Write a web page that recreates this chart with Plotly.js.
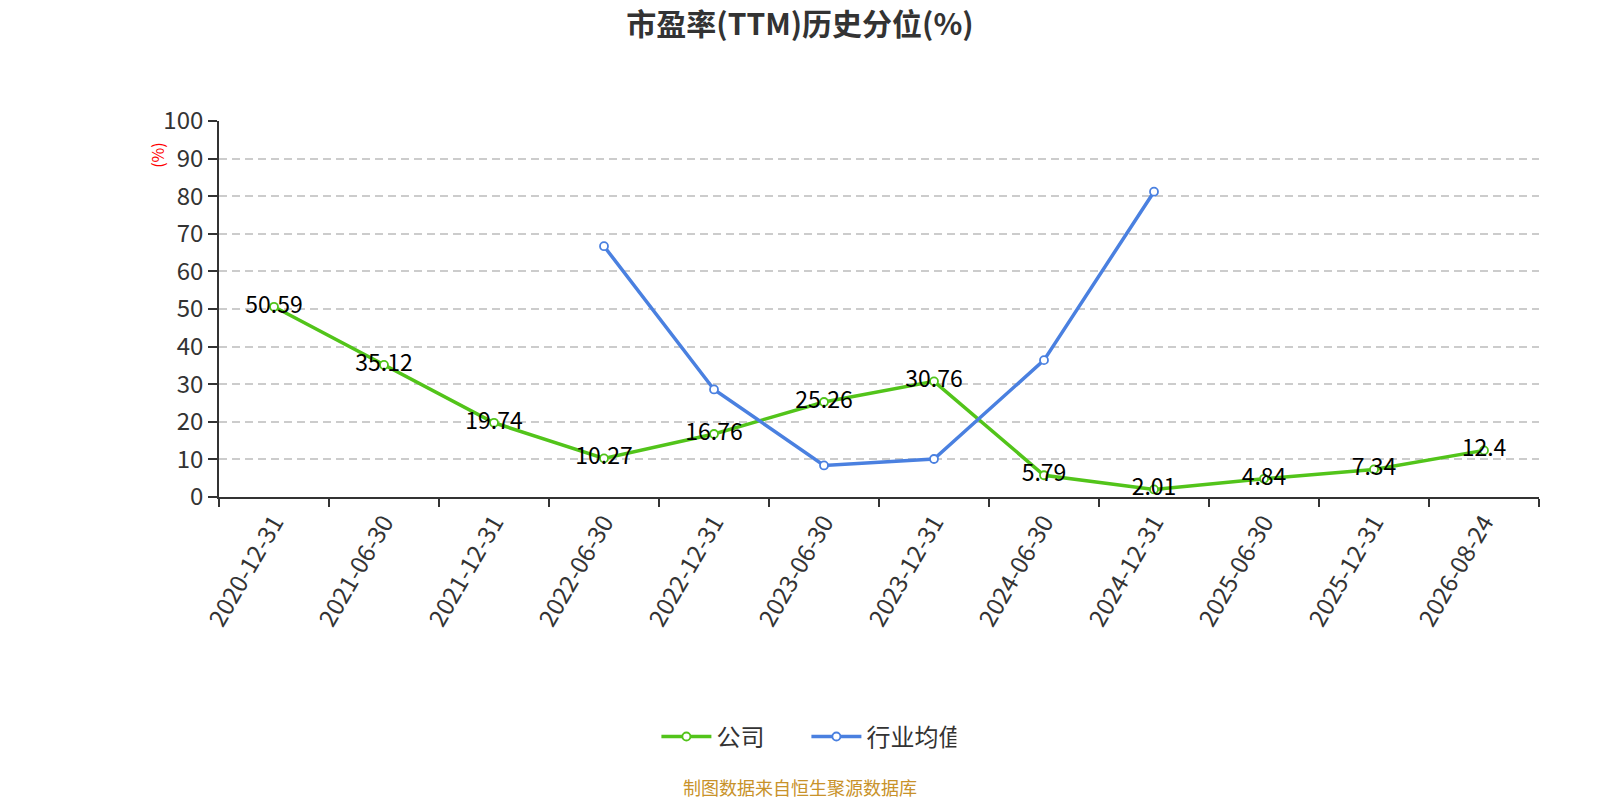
<!DOCTYPE html>
<html>
<head>
<meta charset="utf-8">
<script src="https://cdn.plot.ly/plotly-3.0.1.min.js"></script>
<style>
  html, body { margin: 0; padding: 0; background: #fff; overflow: hidden; }
  #chart { width: 1600px; height: 800px; }
</style>
</head>
<body>
<div id="chart"></div>
<script>
let dates = ['2020-12-31', '2021-06-30', '2021-12-31', '2022-06-30', '2022-12-31', '2023-06-30',
             '2023-12-31', '2024-06-30', '2024-12-31', '2025-06-30', '2025-12-31', '2026-08-24'];
let company = [50.59, 35.12, 19.74, 10.27, 16.76, 25.26, 30.76, 5.79, 2.01, 4.84, 7.34, 12.4];
let industry = [null, null, null, 66.7, 28.6, 8.4, 10.1, 36.4, 81.2, null, null, null];

let fontFamily = '"Noto Sans CJK SC", "Noto Sans", sans-serif';

let trace1 = {
    x: dates,
    y: company,
    name: '公司',
    mode: 'lines+markers+text',
    text: company.map(v => String(v)),
    textposition: 'middle center',
    textfont: {size: 23, color: '#000', family: fontFamily},
    line: {color: '#52c41a', width: 3.5},
    marker: {symbol: 'circle', size: 8, color: '#fff', line: {color: '#52c41a', width: 1.8}},
    cliponaxis: false,
    hoverinfo: 'x+y'
};

let trace2 = {
    x: dates,
    y: industry,
    name: '行业均值',
    mode: 'lines+markers',
    line: {color: '#4a80e0', width: 3.5},
    marker: {symbol: 'circle', size: 8, color: '#fff', line: {color: '#4a80e0', width: 1.8}},
    connectgaps: false,
    cliponaxis: false,
    hoverinfo: 'x+y'
};

let layout = {
    width: 1600,
    height: 800,
    margin: {l: 219, r: 61, t: 121, b: 303},
    paper_bgcolor: '#fff',
    plot_bgcolor: '#fff',
    font: {family: fontFamily, color: '#333'},
    title: {
        text: '<b>市盈率(TTM)历史分位(%)</b>',
        x: 0.5, xanchor: 'center',
        y: 0.97, yanchor: 'middle',
        font: {size: 30, color: '#333', family: fontFamily}
    },
    xaxis: {
        type: 'category',
        tickson: 'boundaries',
        ticks: 'outside',
        ticklen: 8,
        tickwidth: 1.5,
        tickcolor: '#333',
        showline: true,
        linecolor: '#333',
        linewidth: 1.8,
        showgrid: false,
        tickangle: -60,
        tickfont: {size: 24, color: '#333', family: fontFamily},
        range: [-0.5, 11.5],
        automargin: false,
        fixedrange: true
    },
    yaxis: {
        range: [0, 100],
        dtick: 10,
        ticks: 'outside',
        ticklen: 9,
        tickwidth: 1.5,
        tickcolor: '#333',
        showline: true,
        linecolor: '#333',
        linewidth: 1.8,
        showgrid: true,
        gridcolor: '#ccc',
        griddash: '8px,5px',
        gridwidth: 1.5,
        zeroline: false,
        tickfont: {size: 24, color: '#333', family: fontFamily},
        automargin: false,
        fixedrange: true
    },
    showlegend: true,
    legend: {
        orientation: 'h',
        x: 0.445, xanchor: 'center',
        y: -0.638, yanchor: 'middle',
        font: {size: 24, color: '#333', family: fontFamily},
        itemwidth: 50,
        entrywidth: 85
    },
    annotations: [
        {
            text: '(%)',
            xref: 'paper', yref: 'paper',
            x: -0.047, y: 0.91,
            xanchor: 'center', yanchor: 'middle',
            textangle: -90,
            showarrow: false,
            font: {size: 16, color: '#ff0000', family: fontFamily}
        },
        {
            text: '制图数据来自恒生聚源数据库',
            xref: 'paper', yref: 'paper',
            x: 0.44, y: -0.77,
            xanchor: 'center', yanchor: 'middle',
            showarrow: false,
            font: {size: 18, color: '#c8922a', family: fontFamily}
        }
    ]
};

Plotly.newPlot('chart', [trace1, trace2], layout, {displaylogo: false, displayModeBar: false});
</script>
</body>
</html>
